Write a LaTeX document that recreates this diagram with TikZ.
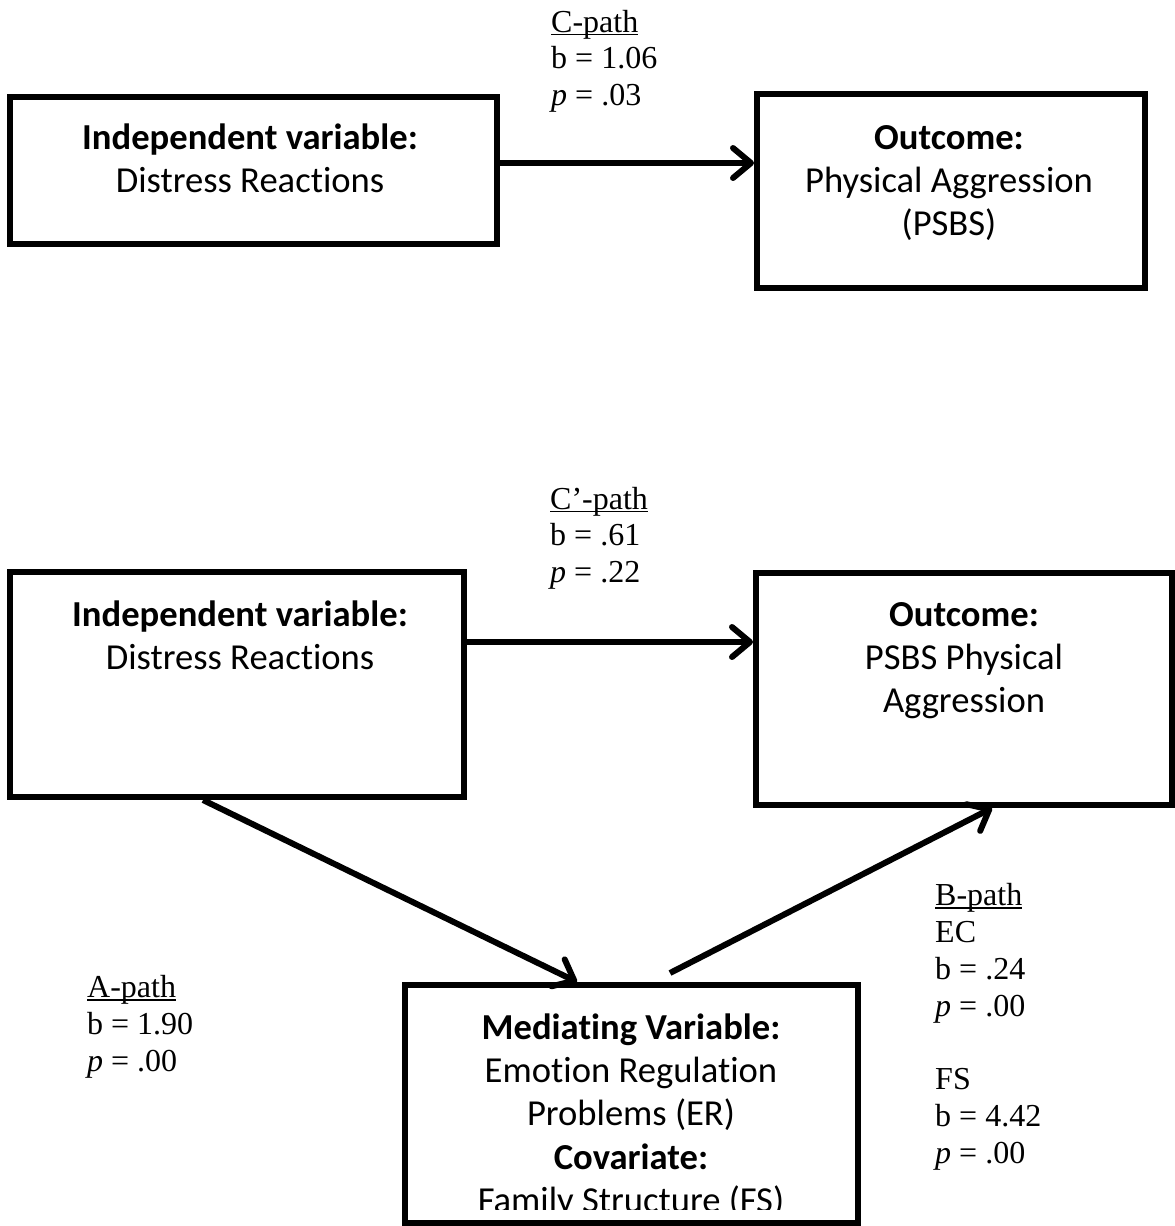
\documentclass[tikz,border=0pt]{standalone}
\usepackage{fontspec}
\setmainfont{Liberation Serif}
\newfontfamily\boxfont[Ligatures={NoCommon,NoContextual}]{Carlito}
\usetikzlibrary{arrows.meta,calc}
\newcommand\myul[1]{\setbox0\hbox{#1}\rlap{\rule[-3pt]{\wd0}{1.6pt}}\box0}
\begin{document}
\begin{tikzpicture}[x=1pt,y=-1pt,
  box/.style={draw, line width=6pt, inner sep=0pt},
  boxtext/.style={anchor=north, inner sep=0pt, align=center,
    font={\boxfont\fontsize{36.6}{43.3}\selectfont}},
  lab/.style={anchor=north west, inner sep=0pt, align=left,
    font={\fontsize{32}{36.8}\selectfont}},
  arr/.style={line width=6pt, -{Straight Barb[length=18pt,width=30pt,round]}}]
\useasboundingbox[fill=white] (0,0) rectangle (1175,1226);

% top diagram
\node[box, minimum width=487pt, minimum height=147pt] (iv1) at (253.5,170.5) {};
\node[box, minimum width=388pt, minimum height=194pt] (out1) at (951,191) {};
\node[boxtext] (iv1t) at (250,118.7) {\textbf{Independent variable:}\strut\\Distress Reactions};
\node[boxtext] (out1t) at (949,118.7) {\textbf{Outcome:}\strut\\Physical Aggression\\(PSBS)};
\draw[arr] ([yshift=7.5pt]iv1.east) -- ([yshift=7.5pt]iv1.east -| out1.west);
\node[lab] (cpath) at (551,6.2) {\myul{C-path}\strut\\b = 1.06\\\textit{p} = .03};

% bottom diagram
\node[box, minimum width=454pt, minimum height=225pt] (iv2) at (237,684.5) {};
\node[box, minimum width=416pt, minimum height=232pt] (out2) at (964,689) {};
\node[boxtext] (iv2t) at (240,595.7) {\textbf{Independent variable:}\strut\\Distress Reactions};
\node[boxtext] (out2t) at (964,595.7) {\textbf{Outcome:}\strut\\PSBS Physical\\Aggression};
\draw[arr] ([yshift=42.5pt]iv2.east) -- ([yshift=42.5pt]iv2.east -| out2.west);
\node[lab] (cppath) at (550,483.2) {\myul{C’-path}\strut\\b = .61\\\textit{p} = .22};

\node[box, minimum width=453pt, minimum height=238pt] (med) at (631.5,1104) {};
\begin{scope}
  \clip (0,0) rectangle (1175,1209);
  \node[boxtext] (medt) at (631,1008.7) {\textbf{Mediating Variable:}\strut\\Emotion Regulation\\Problems (ER)\\\textbf{Covariate:}\\Family Structure (FS)};
\end{scope}

\draw[arr] ([xshift=196pt]iv2.south west) -- ([xshift=175pt]med.north west);
\draw[arr] ([xshift=38.5pt,yshift=9pt]med.north) -- ([xshift=239pt]out2.south west);

\node[lab] (apath) at (87,972) {\myul{A-path}\strut\\b = 1.90\\\textit{p} = .00};
\node[lab] (bpath) at (935,880) {\myul{B-path}\strut\\EC\\b = .24\\\textit{p} = .00\\[36.8pt]FS\\b = 4.42\\\textit{p} = .00};
\end{tikzpicture}
\end{document}
